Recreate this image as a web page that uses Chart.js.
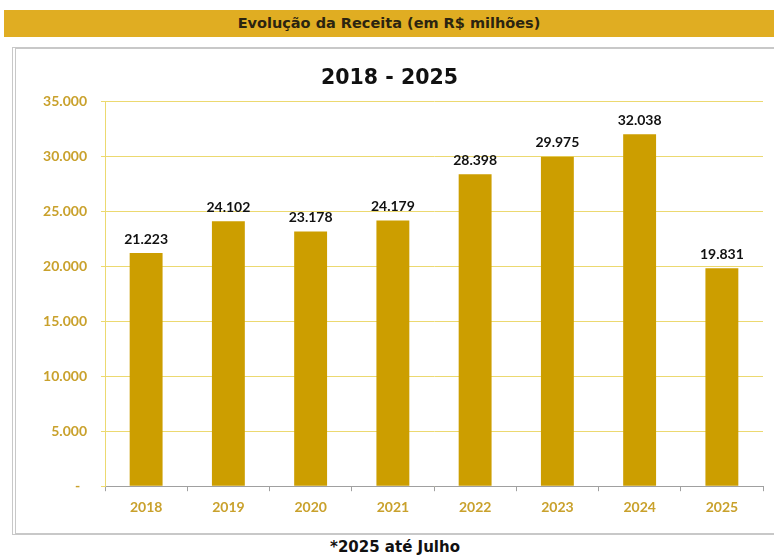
<!DOCTYPE html>
<html>
<head>
<meta charset="utf-8">
<script src="https://cdn.jsdelivr.net/npm/chart.js@4.4.0/dist/chart.umd.min.js"></script>
<style>
  html, body { margin: 0; padding: 0; background: #fff; }
  body { width: 774px; height: 556px; position: relative; overflow: hidden; }
  #header {
    position: absolute; left: 4px; top: 10px; width: 770px; height: 27px;
    background: #e0ad22; color: #2b2410;
    font: bold 14.5px "DejaVu Sans", sans-serif; text-align: center; line-height: 27px;
  }
  #box {
    position: absolute; left: 12px; top: 47px; width: 760px; height: 484px;
    border: 2px solid #c8c8c8; border-left: 4px double #c8c8c8; background: #fff;
  }
  #note {
    position: absolute; left: 0; top: 538px; width: 790px; text-align: center;
    font: bold 15px "DejaVu Sans", sans-serif; color: #111;
  }
</style>
</head>
<body>
<div id="header">Evolução da Receita (em R$ milhões)</div>
<div id="box"><canvas id="chart" width="760" height="484"></canvas></div>
<div id="note">*2025 até Julho</div>
<script>
const years = ["2018", "2019", "2020", "2021", "2022", "2023", "2024", "2025"];
const receita = [21223, 24102, 23178, 24179, 28398, 29975, 32038, 19831];
const yTicks = [0, 5000, 10000, 15000, 20000, 25000, 30000, 35000];

const gold = "#cc9e00";
const labelGold = "#c9a12c";

function fmt(v) {
  if (v === 0) return "-\u00a0\u00a0";
  return v.toString().replace(/\B(?=(\d{3})+(?!\d))/g, ".");
}

// draws the value above each bar
const valueLabels = {
  id: "valueLabels",
  afterDatasetsDraw(chart) {
    const ctx = chart.ctx;
    const meta = chart.getDatasetMeta(0);
    ctx.save();
    ctx.font = "bold 14px Lato, sans-serif";
    ctx.fillStyle = "#111";
    ctx.textAlign = "center";
    ctx.textBaseline = "bottom";
    meta.data.forEach((bar, i) => {
      ctx.fillText(fmt(receita[i]), bar.x, bar.y - 7);
    });
    ctx.restore();
  }
};

new Chart(document.getElementById("chart"), {
  type: "bar",
  data: {
    labels: years,
    datasets: [{
      data: receita,
      backgroundColor: gold,
      categoryPercentage: 0.4,
      barPercentage: 1.0
    }]
  },
  options: {
    responsive: false,
    animation: false,
    layout: { padding: { top: 0, right: 13, bottom: 9, left: 0 } },
    plugins: {
      legend: { display: false },
      tooltip: { enabled: false },
      title: {
        display: true,
        text: "2018 - 2025",
        color: "#111",
        font: { family: "DejaVu Sans", size: 20.5, weight: "bold" },
        padding: { top: 17, bottom: 11 }
      }
    },
    scales: {
      x: {
        offset: true,
        grid: {
          offset: true, drawOnChartArea: false, drawTicks: true,
          tickLength: 5, color: "#a0a0a0"
        },
        border: { color: "#a0a0a0" },
        ticks: {
          color: labelGold, padding: 8,
          font: { family: "Lato", size: 14, weight: "bold" }
        }
      },
      y: {
        min: 0, max: 35000,
        afterBuildTicks(scale) { scale.ticks = yTicks.map(v => ({ value: v })); },
        afterFit(scale) { scale.width = 89; },
        grid: { color: "#ecd970", tickLength: 4 },
        border: { color: "#ecd970" },
        ticks: {
          color: labelGold, padding: 14,
          font: { family: "Lato", size: 14, weight: "bold" },
          callback: v => fmt(v)
        }
      }
    }
  },
  plugins: [valueLabels]
});
</script>
</body>
</html>
